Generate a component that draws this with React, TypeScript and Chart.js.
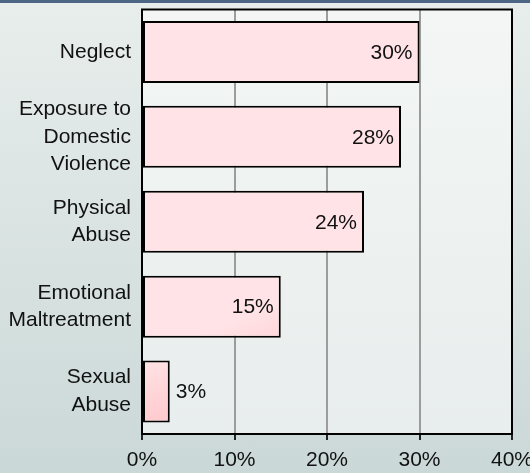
import React, { useEffect, useRef } from "react";
import { Chart, registerables } from "chart.js";

Chart.register(...registerables);

const categories: string[][] = [
  ["Neglect"],
  ["Exposure to", "Domestic", "Violence"],
  ["Physical", "Abuse"],
  ["Emotional", "Maltreatment"],
  ["Sexual", "Abuse"],
];
const values: number[] = [30, 28, 24, 15, 3];
const xTickValues: number[] = [0, 10, 20, 30, 40];

const FONT = "'Liberation Sans', Arial, Helvetica, sans-serif";

export default function App() {
  const ref = useRef<HTMLCanvasElement | null>(null);

  useEffect(() => {
    document.body.style.margin = "0";
    if (!ref.current) return;

    const plotBg = {
      id: "plotBg",
      beforeDraw(chart: any) {
        const { ctx, chartArea: a } = chart;
        const g = ctx.createLinearGradient(0, a.top, 0, a.bottom);
        g.addColorStop(0, "#f3f6f5");
        g.addColorStop(1, "#e8eeed");
        ctx.save();
        ctx.fillStyle = g;
        ctx.fillRect(a.left, a.top, a.right - a.left, a.bottom - a.top);
        ctx.restore();
      },
    };

    const barGradient = {
      id: "barGradient",
      beforeDatasetsDraw(chart: any) {
        const { ctx } = chart;
        const meta = chart.getDatasetMeta(0);
        meta.data.forEach((el: any) => {
          const h = el.height;
          const g = ctx.createLinearGradient(el.base, el.y - h / 2, el.x, el.y + h / 2);
          g.addColorStop(0, "#ffe3e6");
          g.addColorStop(1, "#ffc8cc");
          el.options.backgroundColor = g;
        });
      },
    };

    const labelsAndFrame = {
      id: "labelsAndFrame",
      afterDatasetsDraw(chart: any) {
        const { ctx } = chart;
        const meta = chart.getDatasetMeta(0);
        ctx.save();
        ctx.font = `21px ${FONT}`;
        ctx.fillStyle = "#111";
        ctx.textBaseline = "middle";
        meta.data.forEach((el: any, i: number) => {
          const v = values[i];
          const txt = v + "%";
          const w = ctx.measureText(txt).width;
          if (el.x - el.base > w + 16) {
            ctx.textAlign = "right";
            ctx.fillText(txt, el.x - 7, el.y + 1);
          } else {
            ctx.textAlign = "left";
            ctx.fillText(txt, el.x + 6, el.y + 1);
          }
        });
        ctx.restore();
      },
      afterDraw(chart: any) {
        const { ctx, chartArea: a } = chart;
        ctx.save();
        ctx.strokeStyle = "#000";
        ctx.lineWidth = 2;
        ctx.strokeRect(a.left, a.top, a.right - a.left, a.bottom - a.top);
        ctx.restore();
      },
    };

    const chart = new Chart(ref.current, {
      type: "bar",
      data: {
        labels: categories as any,
        datasets: [
          {
            data: values,
            backgroundColor: "#ffd6d9",
            borderColor: "#000",
            borderWidth: 2,
            borderSkipped: false,
            categoryPercentage: 1,
            barPercentage: 0.73,
          },
        ],
      },
      options: {
        indexAxis: "y",
        animation: false,
        responsive: false,
        devicePixelRatio: 1,
        layout: { padding: { left: 0, right: 18, top: 9.5, bottom: 0 } },
        plugins: {
          legend: { display: false },
          tooltip: { enabled: false },
        },
        scales: {
          x: {
            min: 0,
            max: 40,
            afterBuildTicks(scale: any) {
              scale.ticks = xTickValues.map((v) => ({ value: v }));
            },
            afterFit(scale: any) {
              scale.height = 39;
              scale.paddingLeft = 0;
              scale.paddingRight = 0;
            },
            ticks: {
              callback: (v: any) => v + "%",
              color: "#111",
              font: { size: 21, family: FONT },
              padding: 8,
              maxRotation: 0,
              autoSkip: false,
            },
            grid: {
              color: "#9c9c9c",
              lineWidth: 2,
              drawTicks: true,
              tickLength: 6,
              tickColor: "#222",
              tickWidth: 2,
            },
            border: { display: false },
          },
          y: {
            afterFit(scale: any) {
              scale.width = 142;
              scale.paddingTop = 0;
              scale.paddingBottom = 0;
            },
            ticks: {
              color: "#111",
              font: { size: 21, family: FONT, lineHeight: 1.32 },
              padding: 11,
              autoSkip: false,
            },
            grid: { display: false, drawTicks: false },
            border: { display: false },
          },
        },
      },
      plugins: [plotBg, barGradient, labelsAndFrame],
    });

    return () => chart.destroy();
  }, []);

  return (
    <div
      style={{
        position: "fixed",
        left: 0,
        top: 0,
        width: 530,
        height: 473,
        background: "linear-gradient(180deg, #e8eeec 0%, #cbd8d8 100%)",
      }}
    >
      <canvas ref={ref} width={530} height={473} style={{ position: "absolute", left: 0, top: 0 }} />
      <div
        style={{
          position: "absolute",
          left: 0,
          top: 0,
          width: 530,
          height: 3,
          background: "#4f6787",
        }}
      />
    </div>
  );
}
